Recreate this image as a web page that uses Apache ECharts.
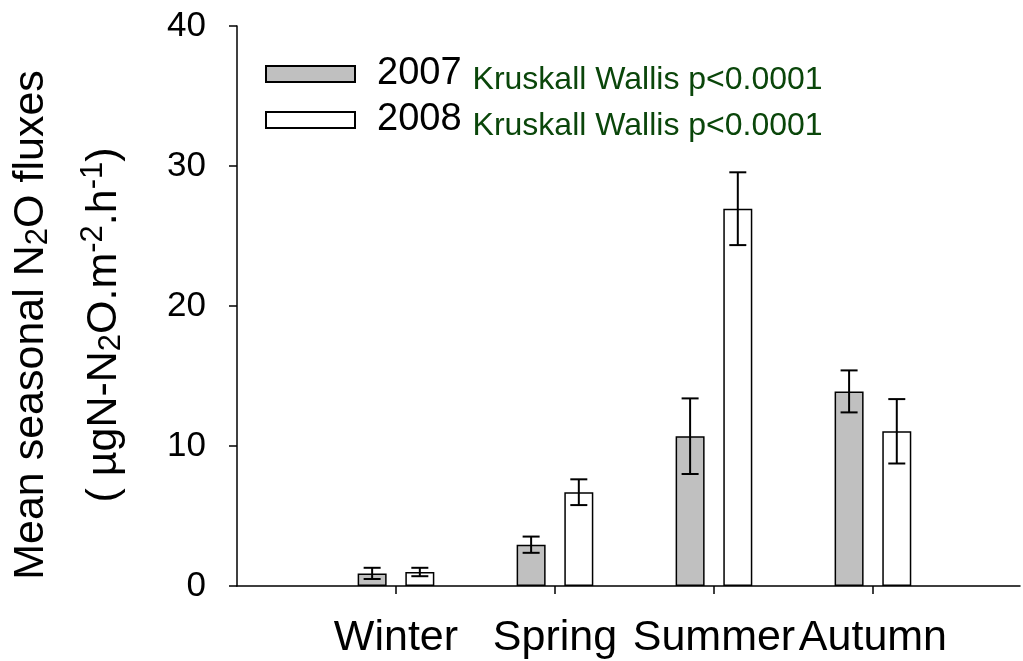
<!DOCTYPE html>
<html>
<head>
<meta charset="utf-8">
<script src="https://cdn.jsdelivr.net/npm/echarts@6/dist/echarts.min.js"></script>
<style>
html,body{margin:0;padding:0;background:#fff;}
#chart{width:1023px;height:661px;}
</style>
</head>
<body>
<div id="chart"></div>
<script>
// ---- data ----
const seasons = ['Winter', 'Spring', 'Summer', 'Autumn'];
const years = ['2007', '2008'];
const mean2007 = [0.9, 2.95, 10.7, 13.9];
const err2007 = [0.4, 0.58, 2.7, 1.5];
const mean2008 = [1.0, 6.7, 26.95, 11.05];
const err2008 = [0.3, 0.92, 2.6, 2.3];
const yTicks = [0, 10, 20, 30, 40];
const statText = 'Kruskall Wallis p<0.0001';

// ---- build ----
const FONT = 'Liberation Sans, Arial, sans-serif';
const OFF = 0.15;
const seasonPos = seasons.map((s, i) => i + 1);

function barData(means, sign) {
  return means.map((v, i) => [seasonPos[i] + sign * OFF, v]);
}
function errData(means, errs, sign) {
  return means.map((v, i) => [seasonPos[i] + sign * OFF, v, errs[i]]);
}

const chart = echarts.init(document.getElementById('chart'), null, {renderer: 'canvas'});

function renderErr(params, api) {
  const x = api.value(0), m = api.value(1), e = api.value(2);
  const top = api.coord([x, m + e]);
  const bot = api.coord([x, m - e]);
  const hw = 8.5;
  const st = {stroke: '#000', lineWidth: 2};
  return {
    type: 'group',
    children: [
      {type: 'line', shape: {x1: top[0], y1: top[1], x2: bot[0], y2: bot[1]}, style: st},
      {type: 'line', shape: {x1: top[0] - hw, y1: top[1], x2: top[0] + hw, y2: top[1]}, style: st},
      {type: 'line', shape: {x1: bot[0] - hw, y1: bot[1], x2: bot[0] + hw, y2: bot[1]}, style: st}
    ]
  };
}

const option = {
  animation: false,
  backgroundColor: '#fff',
  textStyle: {fontFamily: FONT},
  grid: {left: 237, right: 3, top: 26, bottom: 75, containLabel: false},
  legend: {
    data: years,
    orient: 'vertical',
    left: 265,
    top: 52,
    padding: 0,
    icon: 'rect',
    itemWidth: 89,
    itemHeight: 16,
    itemGap: 2,
    selectedMode: false,
    formatter: name => '{a|' + name + '}{b|' + statText + '}',
    textStyle: {
      fontFamily: FONT,
      rich: {
        a: {fontSize: 38, color: '#000', lineHeight: 40, padding: [0, 0, 0, 17], fontFamily: FONT},
        b: {fontSize: 32, color: '#0a460a', lineHeight: 28, padding: [12, 0, 0, 11], fontFamily: FONT}
      }
    }
  },
  xAxis: {
    type: 'value',
    min: 0,
    max: 4.925,
    interval: 1,
    splitLine: {show: false},
    axisLine: {show: true, onZero: false, lineStyle: {color: '#000', width: 1.5}},
    axisTick: {show: true, customValues: seasonPos, length: 8, lineStyle: {color: '#000', width: 1.5}},
    axisLabel: {
      show: true,
      customValues: seasonPos,
      formatter: v => seasons[Math.round(v) - 1] || '',
      fontSize: 43,
      color: '#000',
      margin: 31,
      fontFamily: FONT
    }
  },
  yAxis: {
    type: 'value',
    min: yTicks[0],
    max: yTicks[yTicks.length - 1],
    interval: yTicks[1] - yTicks[0],
    splitLine: {show: false},
    axisLine: {show: true, lineStyle: {color: '#000', width: 1.5}},
    axisTick: {show: true, length: 8, lineStyle: {color: '#000', width: 1.5}},
    axisLabel: {fontSize: 35, color: '#000', margin: 31, fontFamily: FONT}
  },
  graphic: [{
    type: 'text',
    x: 68,
    y: 325,
    rotation: Math.PI / 2,
    style: {
      text: 'Mean seasonal N{sub|2}O fluxes\n( µgN-N{sub|2}O.m{sup|-2}.h{sup|-1})',
      align: 'center',
      verticalAlign: 'middle',
      fontSize: 43,
      fontFamily: FONT,
      fill: '#000',
      lineHeight: 73,
      rich: {
        sub: {fontSize: 31, lineHeight: 31, padding: [14, 0, 0, 0], fontFamily: FONT, fill: '#000'},
        sup: {fontSize: 31, lineHeight: 31, padding: [0, 0, 22, 0], fontFamily: FONT, fill: '#000'}
      }
    }
  }],
  series: [
    {
      name: '2007',
      type: 'bar',
      data: barData(mean2007, -1),
      barWidth: 29,
      barGap: '-100%',
      itemStyle: {color: '#c0c0c0', borderColor: '#000', borderWidth: 1.5},
      z: 2
    },
    {
      name: '2008',
      type: 'bar',
      data: barData(mean2008, 1),
      barWidth: 29,
      barGap: '-100%',
      itemStyle: {color: '#ffffff', borderColor: '#000', borderWidth: 1.5},
      z: 2
    },
    {
      name: 'err2007',
      type: 'custom',
      data: errData(mean2007, err2007, -1),
      encode: {x: 0, y: 1},
      z: 5,
      renderItem: renderErr
    },
    {
      name: 'err2008',
      type: 'custom',
      data: errData(mean2008, err2008, 1),
      encode: {x: 0, y: 1},
      z: 5,
      renderItem: renderErr
    }
  ]
};

chart.setOption(option);
</script>
</body>
</html>
